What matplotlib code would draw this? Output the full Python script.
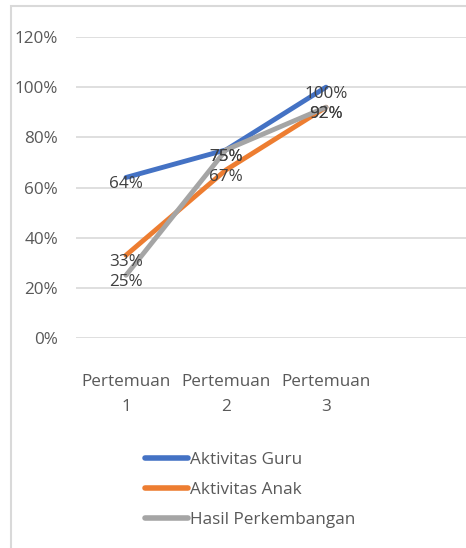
import matplotlib.pyplot as plt
from matplotlib.patches import Rectangle

categories = ['Pertemuan\n1', 'Pertemuan\n2', 'Pertemuan\n3']
guru = [64, 75, 100]
anak = [33, 67, 92]
hasil = [25, 75, 92]
series_names = ['Aktivitas Guru', 'Aktivitas Anak', 'Hasil Perkembangan']
colors = ['#4472C4', '#ED7D31', '#A5A5A5']
yticks = [0, 20, 40, 60, 80, 100, 120]

plt.rcParams['font.family'] = ['Open Sans', 'DejaVu Sans']
FS = 12.3

W, H = 466, 548
fig = plt.figure(figsize=(W / 100, H / 100), dpi=100)

# outer chart frame
fig.patches.append(Rectangle((11 / W, -0.1), 1.2, (H - 6) / H + 0.1,
                             transform=fig.transFigure, fill=False,
                             edgecolor='#d9d9d9', linewidth=1.5))

ax = fig.add_axes([76 / W, 210 / H, 400 / W, 301 / H])
x = list(range(1, len(categories) + 1))
for vals, name, c in zip([guru, anak, hasil], series_names, colors):
    ax.plot(x, vals, color=c, linewidth=3.5, solid_capstyle='round', label=name)

# data labels
for vals in [guru, anak, hasil]:
    for xi, v in zip(x, vals):
        ax.annotate(f'{v}%', (xi, v), xytext=(0, -5), textcoords='offset points',
                    ha='center', va='center', fontsize=FS, color='#404040')

ax.set_xlim(0.5, 4.5)
ax.set_ylim(0, 120)
ax.set_yticks(yticks)
ax.set_yticklabels([f'{t}%' for t in yticks])
ax.set_xticks(x)
ax.set_xticklabels(categories, linespacing=1.7)
ax.grid(axis='y', color='#d9d9d9', linewidth=1.2)
ax.set_axisbelow(True)
for s in ax.spines.values():
    s.set_visible(False)
ax.tick_params(length=0, labelsize=FS, colors='#595959')
ax.tick_params(axis='y', pad=13)
ax.tick_params(axis='x', pad=26)

leg = fig.legend(loc='upper left', bbox_to_anchor=(130 / W, 1 - 437 / H),
                 frameon=False, fontsize=FS, handlelength=2.5, handletextpad=0.1,
                 labelspacing=0.8)
for t in leg.get_texts():
    t.set_color('#595959')
for l in leg.get_lines():
    l.set_linewidth(4)

fig.savefig('out.png', dpi=100)
